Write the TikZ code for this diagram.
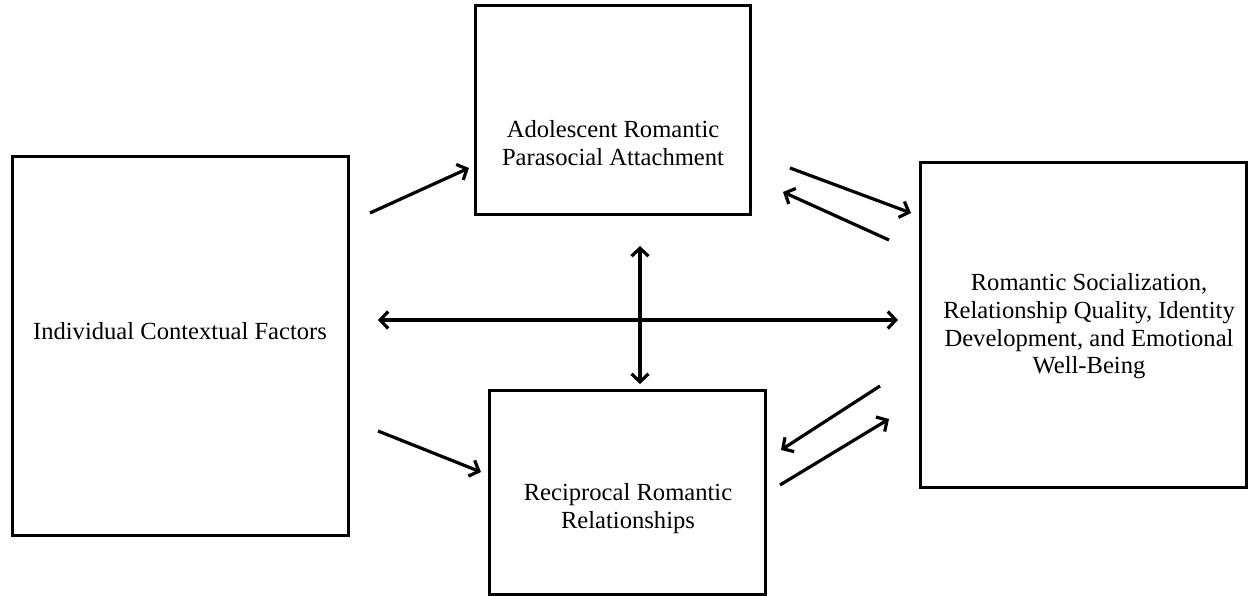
\documentclass[tikz,border=0pt]{standalone}
\usepackage{fontspec}
\setmainfont{Liberation Serif}
\usetikzlibrary{arrows.meta}
\begin{document}
\begin{tikzpicture}[x=1pt,y=-1pt,
  box/.style={draw, line width=3pt, rectangle, inner sep=0pt},
  lbl/.style={align=center, font=\fontsize{24.6}{27.6}\selectfont, inner sep=0pt},
  arr/.style={line width=3.2pt, -{Straight Barb[length=8pt,width=17pt]}},
  darr/.style={line width=3.2pt, {Straight Barb[length=8pt,width=17pt]}-{Straight Barb[length=8pt,width=17pt]}}]
\useasboundingbox (0,0) rectangle (1256,596);
\node[box, minimum width=336pt, minimum height=378pt] (L) at (180,346) {};
\node[box, minimum width=275pt, minimum height=209pt] (T) at (612.5,110.5) {};
\node[box, minimum width=276pt, minimum height=204pt] (B) at (627,492) {};
\node[box, minimum width=326pt, minimum height=324pt] (R) at (1083,325) {};
\node[lbl] (Lt) at (180,331) {Individual Contextual Factors};
\node[lbl] (Tt) at (613,143) {Adolescent Romantic\\Parasocial Attachment};
\node[lbl] (Bt) at (628,508.5) {Reciprocal Romantic\\Relationships};
\node[lbl] (Rt) at (1089,326.5) {Romantic Socialization,\\Relationship Quality, Identity\\Development, and Emotional\\Well-Being};
\coordinate (a1) at (370,213); \coordinate (a2) at (469,168);
\coordinate (b1) at (378,431); \coordinate (b2) at (481,472);
\coordinate (c1) at (790,168); \coordinate (c2) at (911,213);
\coordinate (d1) at (889,240); \coordinate (d2) at (783,192);
\coordinate (e1) at (880,386); \coordinate (e2) at (781,450);
\coordinate (f1) at (780,485); \coordinate (f2) at (889,419);
\coordinate (h1) at (378,320); \coordinate (h2) at (898,320);
\coordinate (v1) at (640,246); \coordinate (v2) at (640,384);
\draw[arr] (a1) -- (a2);
\draw[arr] (b1) -- (b2);
\draw[arr] (c1) -- (c2);
\draw[arr] (d1) -- (d2);
\draw[arr] (e1) -- (e2);
\draw[arr] (f1) -- (f2);
\draw[darr] (h1) -- (h2);
\draw[darr] (v1) -- (v2);
\end{tikzpicture}
\end{document}
